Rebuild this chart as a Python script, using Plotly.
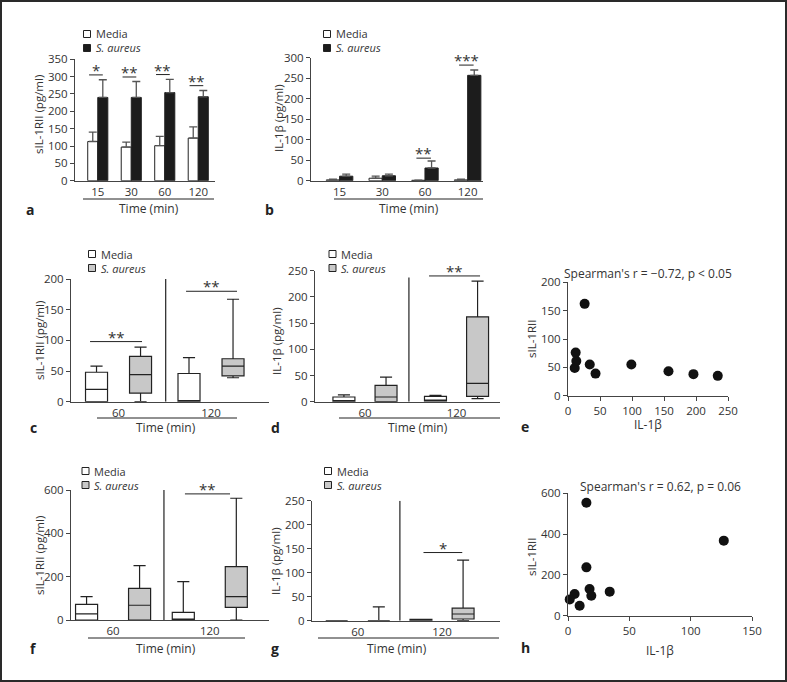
import plotly.graph_objects as go

W, H = 787, 682
FONT = "Open Sans"
TXT = "#333333"
AX = "#444444"


def X(p):
    return p / W


def Y(p):
    return 1 - p / H


# ---------------- data ----------------
TIME_A = ["15", "30", "60", "120"]
a_media = [113, 97, 101, 123]
a_media_err = [27, 14, 27, 32]
a_sa = [240, 240, 254, 242]
a_sa_err = [51, 46, 38, 18]
a_sig = ["*", "**", "**", "**"]
a_sig_y = [305, 299, 306, 274]

b_media = [2, 6, 1, 2]
b_media_err = [1.5, 5, 0.5, 1.5]
b_sa = [11, 12, 31, 257]
b_sa_err = [5, 4, 17, 13]
b_sig = ["", "", "**", "***"]
b_sig_y = [0, 0, 55, 282]

TIME_BOX = ["60", "120"]
# panel c  (sIL-1RII, pg/ml)
c_media_lo = [0, 0]
c_media_q1 = [0, 0]
c_media_med = [20, 0]
c_media_q3 = [48, 46]
c_media_hi = [58, 72]
c_sa_lo = [0, 39]
c_sa_q1 = [14, 42]
c_sa_med = [44, 58]
c_sa_q3 = [74, 70]
c_sa_hi = [89, 167]
c_sig = ["**", "**"]
c_sig_y = [98, 180]

# panel d  (IL-1b, pg/ml)
d_media_lo = [0, 1]
d_media_q1 = [0, 1]
d_media_med = [0, 2]
d_media_q3 = [9, 10]
d_media_hi = [13, 12]
d_sa_lo = [0, 6]
d_sa_q1 = [0, 10]
d_sa_med = [9, 35]
d_sa_q3 = [31, 162]
d_sa_hi = [47, 230]
d_sig = ["", "**"]
d_sig_y = [0, 240]

# panel e scatter
e_il1b = [10.5, 13, 12, 34, 43, 26, 99, 157, 196, 234]
e_sil = [49, 61, 76, 55, 39, 162, 55, 43, 38, 35]
e_text = "Spearman's r = \u22120.72, p < 0.05"

# panel f  (sIL-1RII, pg/ml)
f_media_lo = [0, 0]
f_media_q1 = [0, 0]
f_media_med = [28, 0]
f_media_q3 = [72, 35]
f_media_hi = [108, 177]
f_sa_lo = [0, 0]
f_sa_q1 = [0, 58]
f_sa_med = [68, 108]
f_sa_q3 = [146, 246]
f_sa_hi = [251, 562]
f_sig = ["", "**"]
f_sig_y = [0, 582]

# panel g  (IL-1b, pg/ml)
g_media_lo = [0, 0]
g_media_q1 = [0, 0]
g_media_med = [0, 1]
g_media_q3 = [0, 3]
g_media_hi = [0, 3]
g_sa_lo = [0, 0]
g_sa_q1 = [0, 3.5]
g_sa_med = [0, 14]
g_sa_q3 = [0, 26]
g_sa_hi = [29, 126]
g_sig = ["", "*"]
g_sig_y = [0, 142]

# panel h scatter
h_il1b = [15, 127, 15, 17.6, 5.4, 1.4, 19, 34, 9.5, 1.4]
h_sil = [554, 368, 237, 131, 106, 80, 98, 118, 49, -5]
h_text = "Spearman's r = 0.62, p = 0.06"

# ---------------- figure ----------------
fig = go.Figure()
shapes = []
annots = []

WHITE = "#ffffff"
BLACK = "#1c1c1c"
GREY = "#c8c8c8"


def yaxis_style(dom_top, dom_bot, rng, dtick, anchor):
    return dict(domain=[Y(dom_bot), Y(dom_top)], range=rng, dtick=dtick,
                showline=True, linecolor=AX, linewidth=1, ticks="outside",
                ticklen=4, tickcolor=AX, tickwidth=1, showgrid=False,
                zeroline=False, anchor=anchor, automargin=False,
                tickfont=dict(family=FONT, size=11.5, color=TXT))


def xaxis_style(x0, x1, rng, anchor, ticks="", **kw):
    d = dict(domain=[X(x0), X(x1)], range=rng, showline=True, linecolor=AX,
             linewidth=1, ticks=ticks, ticklen=4, tickcolor=AX, showgrid=False,
             zeroline=False, anchor=anchor, automargin=False,
             tickfont=dict(family=FONT, size=11.5, color=TXT))
    d.update(kw)
    return d


def note(x, y, text, size=12, **kw):
    a = dict(xref="paper", yref="paper", x=X(x), y=Y(y), text=text,
             showarrow=False, xanchor="center", yanchor="middle",
             font=dict(family=FONT, size=size, color=TXT))
    a.update(kw)
    annots.append(a)


def sig_marks(xref, yref, sigs, ys, x0offs, x1offs):
    for i, (s, yv, o0, o1) in enumerate(zip(sigs, ys, x0offs, x1offs)):
        if not s:
            continue
        shapes.append(dict(type="line", xref=xref, yref=yref, x0=i + o0,
                           x1=i + o1, y0=yv, y1=yv,
                           line=dict(color="#222", width=1)))
        annots.append(dict(xref=xref, yref=yref, x=i + (o0 + o1) / 2,
                           y=yv, text=s, showarrow=False, xanchor="center",
                           yanchor="middle", yshift=5,
                           font=dict(family=FONT, size=15, color=TXT)))


def legend(x, y_media, y_sa, sa_color):
    for yy, col in [(y_media, WHITE), (y_sa, sa_color)]:
        shapes.append(dict(type="rect", xref="paper", yref="paper",
                           x0=X(x), x1=X(x + 7), y0=Y(yy + 3.5), y1=Y(yy - 3.5),
                           fillcolor=col, line=dict(color="#222", width=1)))
    note(x + 10, (y_media + y_sa) / 2, "Media<br><i>S. aureus</i>", size=11,
         xanchor="left", align="left")


def time_label(x0, x1, yline, xc, ytxt):
    shapes.append(dict(type="line", xref="paper", yref="paper", x0=X(x0),
                       x1=X(x1), y0=Y(yline), y1=Y(yline),
                       line=dict(color="#222", width=1)))
    note(xc, ytxt, "Time (min)")


def ytitle(text, x, y):
    note(x, y, text, size=11.5, textangle=-90)


def letter(t, x, y):
    annots.append(dict(xref="paper", yref="paper", x=X(x), y=Y(y), text="<b>%s</b>" % t,
                       showarrow=False, xanchor="center", yanchor="middle",
                       font=dict(family=FONT, size=14, color="#222")))


def err(arr, n):
    return dict(type="data", symmetric=False, array=arr, arrayminus=[0] * n,
                color="#555", thickness=1.3, width=4)


# ---- panel a ----
wa = 0.3
fig.add_trace(go.Bar(x=TIME_A, y=a_media, width=wa, offset=-wa, xaxis="x", yaxis="y",
                     marker=dict(color=WHITE, line=dict(color="#222", width=1)),
                     error_y=err(a_media_err, 4), showlegend=False))
fig.add_trace(go.Bar(x=TIME_A, y=a_sa, width=wa, offset=0, xaxis="x", yaxis="y",
                     marker=dict(color=BLACK, line=dict(color="#222", width=1)),
                     error_y=err(a_sa_err, 4), showlegend=False))
sig_marks("x", "y", a_sig, a_sig_y, [-0.26] * 4, [0.15] * 4)

# ---- panel b ----
wb = 0.31
fig.add_trace(go.Bar(x=TIME_A, y=b_media, width=wb, offset=-wb, xaxis="x2", yaxis="y2",
                     marker=dict(color=WHITE, line=dict(color="#222", width=1)),
                     error_y=err(b_media_err, 4), showlegend=False))
fig.add_trace(go.Bar(x=TIME_A, y=b_sa, width=wb, offset=0, xaxis="x2", yaxis="y2",
                     marker=dict(color=BLACK, line=dict(color="#222", width=1)),
                     error_y=err(b_sa_err, 4), showlegend=False))
sig_marks("x2", "y2", b_sig, b_sig_y, [-0.2] * 4, [0.14] * 4)


def boxes(xa, ya, off, w, media, sa):
    pos = list(range(len(TIME_BOX)))
    for stats, col, sgn in [(media, WHITE, -1), (sa, GREY, 1)]:
        lo, q1, med, q3, hi = stats
        fig.add_trace(go.Box(x=[p + sgn * off for p in pos], q1=q1, median=med,
                             q3=q3, lowerfence=lo, upperfence=hi, width=w,
                             xaxis=xa, yaxis=ya, fillcolor=col,
                             line=dict(color="#222", width=1.2), whiskerwidth=0.55,
                             boxpoints=False, showlegend=False, hoverinfo="skip"))


def divider(xa, ya, xv, ytop):
    shapes.append(dict(type="line", xref=xa, yref=ya, x0=xv, x1=xv, y0=0, y1=ytop,
                       line=dict(color="#222", width=1.2)))


# ---- panel c ----
boxes("x3", "y3", 0.238, 0.238,
      (c_media_lo, c_media_q1, c_media_med, c_media_q3, c_media_hi),
      (c_sa_lo, c_sa_q1, c_sa_med, c_sa_q3, c_sa_hi))
divider("x3", "y3", 0.51, 200)
sig_marks("x3", "y3", c_sig, c_sig_y, [-0.308, -0.27], [0.254, 0.281])

# ---- panel d ----
boxes("x4", "y4", 0.23, 0.24,
      (d_media_lo, d_media_q1, d_media_med, d_media_q3, d_media_hi),
      (d_sa_lo, d_sa_q1, d_sa_med, d_sa_q3, d_sa_hi))
divider("x4", "y4", 0.48, 237)
sig_marks("x4", "y4", d_sig, d_sig_y, [0, -0.30], [0, 0.257])

# ---- panel e ----
fig.add_trace(go.Scatter(x=e_il1b, y=e_sil, mode="markers", xaxis="x5", yaxis="y5",
                         marker=dict(color="#111", size=10), cliponaxis=False,
                         showlegend=False))
note(648, 273, e_text)

# ---- panel f ----
boxes("x6", "y6", 0.274, 0.228,
      (f_media_lo, f_media_q1, f_media_med, f_media_q3, f_media_hi),
      (f_sa_lo, f_sa_q1, f_sa_med, f_sa_q3, f_sa_hi))
divider("x6", "y6", 0.526, 600)
sig_marks("x6", "y6", f_sig, f_sig_y, [0, -0.257], [0, 0.209])

# ---- panel g ----
boxes("x7", "y7", 0.25, 0.26,
      (g_media_lo, g_media_q1, g_media_med, g_media_q3, g_media_hi),
      (g_sa_lo, g_sa_q1, g_sa_med, g_sa_q3, g_sa_hi))
divider("x7", "y7", 0.5, 250)
sig_marks("x7", "y7", g_sig, g_sig_y, [0, -0.22], [0, 0.24])

# ---- panel h ----
fig.add_trace(go.Scatter(x=h_il1b, y=h_sil, mode="markers", xaxis="x8", yaxis="y8",
                         marker=dict(color="#111", size=10), cliponaxis=False,
                         showlegend=False))
note(660, 486, h_text)

# ---- legends, labels ----
legend(83.5, 34, 48, BLACK)
legend(323.5, 34, 48, BLACK)
legend(88.5, 254, 268, GREY)
legend(329, 254, 268, GREY)
legend(82, 471, 485, GREY)
legend(324.5, 471, 485, GREY)

time_label(83, 214, 199, 149, 209)
time_label(334, 483, 199, 409, 209)
time_label(97, 237, 418, 166, 427)
time_label(339, 500, 418, 418, 427)
time_label(88, 245, 638, 166, 648)
time_label(318, 499, 638, 397, 648)

ytitle("sIL-1RII (pg/ml)", 39, 115)
ytitle("IL-1\u03b2 (pg/ml)", 278, 118)
ytitle("sIL-1RII (pg/ml)", 39, 341)
ytitle("IL-1\u03b2 (pg/ml)", 276, 341)
ytitle("sIL-1RII", 531, 339)
ytitle("sIL-1RII (pg/ml)", 39, 556)
ytitle("IL-1\u03b2 (pg/ml)", 275, 561)
ytitle("sIL-1RII", 531, 557)

note(648, 424, "IL-1\u03b2")
note(660, 650, "IL-1\u03b2")

for t, x, y in [("a", 30, 210), ("b", 269, 210), ("c", 33, 427), ("d", 275, 427),
                ("e", 525, 426), ("f", 33, 648), ("g", 275, 648), ("h", 525, 647)]:
    letter(t, x, y)

# frame
shapes.append(dict(type="rect", xref="paper", yref="paper", x0=X(1), x1=X(786),
                   y0=Y(681), y1=Y(1), line=dict(color="#2a2a2a", width=2)))

layout = dict(
    template="none",
    width=W, height=H, margin=dict(l=0, r=0, t=0, b=0, pad=0, autoexpand=False),
    paper_bgcolor="white", plot_bgcolor="white", barmode="overlay",
    font=dict(family=FONT, color=TXT), showlegend=False,
    shapes=shapes, annotations=annots,
    xaxis=xaxis_style(75, 215, [-0.68, 3.5], "y", type="category"),
    yaxis=yaxis_style(59.3, 180.7, [0, 350], 50, "x"),
    xaxis2=xaxis_style(311, 483, [-0.67, 3.36], "y2", type="category"),
    yaxis2=yaxis_style(57.7, 180.7, [0, 300], 50, "x2"),
    xaxis3=xaxis_style(71, 269, [-0.514, 1.627], "y3", tickvals=[0, 1], ticktext=TIME_BOX),
    yaxis3=yaxis_style(279, 401.7, [0, 200], 50, "x3"),
    xaxis4=xaxis_style(315, 500, [-0.546, 1.475], "y4", tickvals=[0, 1], ticktext=TIME_BOX),
    yaxis4=yaxis_style(270.7, 401.7, [0, 250], 50, "x4"),
    xaxis5=xaxis_style(568, 728, [0, 250], "y5", ticks="outside", dtick=50),
    yaxis5=yaxis_style(282.3, 395.7, [0, 200], 50, "x5"),
    xaxis6=xaxis_style(71, 269, [-0.435, 1.612], "y6", tickvals=[0, 1], ticktext=TIME_BOX),
    yaxis6=yaxis_style(490, 620, [0, 600], 200, "x6"),
    xaxis7=xaxis_style(312, 500, [-0.543, 1.688], "y7", tickvals=[0, 1], ticktext=TIME_BOX),
    yaxis7=yaxis_style(500.7, 620.7, [0, 250], 50, "x7"),
    xaxis8=xaxis_style(568, 752, [0, 150], "y8", ticks="outside", dtick=50),
    yaxis8=yaxis_style(493.3, 615.7, [0, 600], 200, "x8"),
)
fig.update_layout(**layout)
fig.write_html("out.html", config={"displayModeBar": False},
               post_script="document.body.style.margin='0';"
                           "document.body.style.overflow='hidden';")
